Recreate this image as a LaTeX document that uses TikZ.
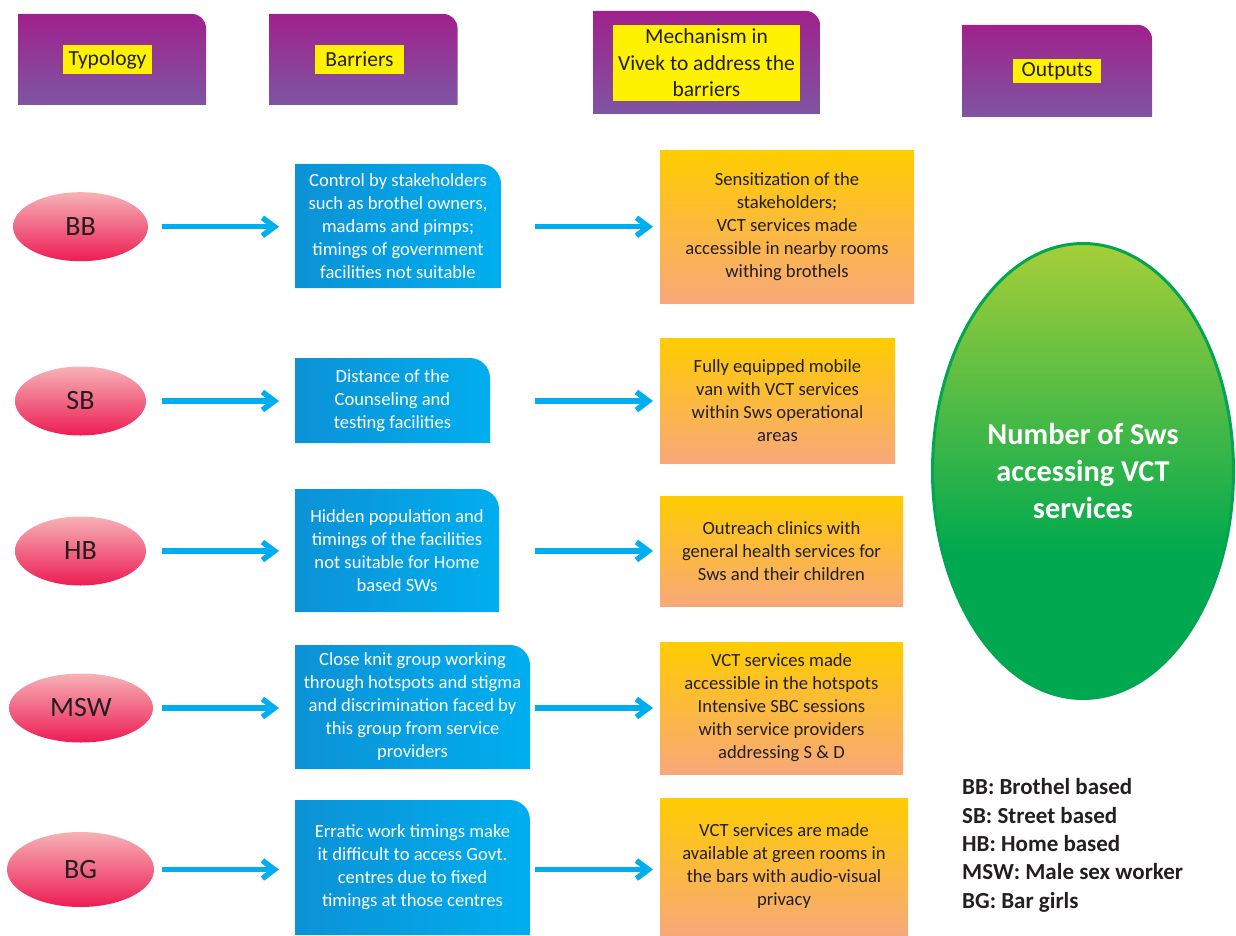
\documentclass[tikz,border=0pt]{standalone}
\usepackage{fontspec}
\setmainfont{Carlito}
\usetikzlibrary{shapes.geometric,arrows.meta,backgrounds,calc}

\definecolor{purpleTop}{RGB}{160,33,140}
\definecolor{purpleBot}{RGB}{126,85,163}
\definecolor{labelYellow}{RGB}{255,242,0}
\definecolor{inkDark}{RGB}{35,31,32}
\definecolor{pinkTop}{RGB}{246,178,182}
\definecolor{pinkBot}{RGB}{237,28,84}
\definecolor{blueL}{RGB}{12,146,214}
\definecolor{blueR}{RGB}{0,174,239}
\definecolor{orangeTop}{RGB}{255,204,0}
\definecolor{orangeBot}{RGB}{247,168,122}
\definecolor{greenTop}{RGB}{166,206,57}
\definecolor{greenBot}{RGB}{0,169,79}
\definecolor{greenEdge}{RGB}{0,166,81}
\definecolor{arrowCyan}{RGB}{0,174,239}

% vertical green shading: flat dark green on the lower part, fading to light green at the top
\pgfdeclareverticalshading{outputshade}{100bp}{color(0bp)=(greenBot); color(25bp)=(greenBot); color(41bp)=(greenBot); color(75bp)=(greenTop); color(100bp)=(greenTop)}

% shaded panel behind node #1 with a single rounded (top right) corner of radius #2
\newcommand\tabpanel[3]{%
  \shade[#3] (#1.south west) -- (#1.north west)
    -- ($(#1.north east)+(-#2,0)$)
    .. controls ($(#1.north east)+(-0.45*#2,0)$) and ($(#1.north east)+(0,0.45*#2)$)
    .. ($(#1.north east)+(0,#2)$)
    -- (#1.south east) -- cycle;}

\newcommand\bodytext{\fontsize{18.6}{23}\selectfont}

\tikzset{
  header/.style={rectangle, inner sep=0pt, outer sep=0pt},
  hdlabel/.style={rectangle, fill=labelYellow, inner sep=0pt, text=inkDark,
    align=center, font=\fontsize{21.5}{26.5}\selectfont},
  typology/.style={ellipse, inner sep=0pt, outer sep=0pt, top color=pinkTop,
    bottom color=pinkBot, text=inkDark, font=\fontsize{28}{34}\selectfont},
  barrier/.style={rectangle, inner sep=0pt, outer sep=0pt, text=white,
    align=center, font=\bodytext},
  mechanism/.style={rectangle, inner sep=0pt, outer sep=0pt, top color=orangeTop,
    bottom color=orangeBot, text=inkDark, align=center, font=\bodytext},
  output/.style={ellipse, inner sep=0pt, draw=greenEdge, line width=3pt, shade,
    shading=outputshade, text=white, align=center,
    font=\fontsize{30.3}{37}\selectfont\bfseries},
  flow/.style={draw=arrowCyan, line width=5.5pt,
    -{Straight Barb[length=12pt,width=18pt]}},
}

\begin{document}
\begin{tikzpicture}[x=1pt,y=-1pt]
\useasboundingbox (0,0) rectangle (1236,936);

% column headers
\node[header, minimum width=188, minimum height=91] (hdTyp) at (112,59.5) {};
\node[header, minimum width=188, minimum height=91] (hdBar) at (363.5,59.5) {};
\node[header, minimum width=227, minimum height=103] (hdMech) at (706.5,62.5) {};
\node[header, minimum width=190, minimum height=92] (hdOut) at (1057,71) {};

\node[hdlabel, minimum width=89, minimum height=29] (lbTyp) at (107.5,59.5) {Typology};
\node[hdlabel, minimum width=89, minimum height=29] (lbBar) at (359.5,59.5) {Barriers};
\node[hdlabel, minimum width=187, minimum height=76] (lbMech) at (706.5,63)
  {Mechanism in\\Vivek to address the\\barriers};
\node[hdlabel, minimum width=88, minimum height=24] (lbOut) at (1057,71) {Outputs};

% typology ellipses
\node[typology, minimum width=135, minimum height=69] (tyBB) at (80.5,226.7) {BB};
\node[typology, minimum width=131, minimum height=69] (tySB) at (80.5,401) {SB};
\node[typology, minimum width=131, minimum height=69] (tyHB) at (80.5,551) {HB};
\node[typology, minimum width=144, minimum height=69] (tyMSW) at (81,708) {MSW};
\node[typology, minimum width=147, minimum height=75] (tyBG) at (80.5,869.5) {BG};

% barriers
\node[barrier, minimum width=206, minimum height=124] (brBB) at (398,226)
  {Control by stakeholders\\such as brothel owners,\\madams and pimps;\\timings of government\\facilities not suitable};
\node[barrier, minimum width=195, minimum height=85] (brSB) at (392.5,400.5)
  {Distance of the\\Counseling and\\testing facilities};
\node[barrier, minimum width=204, minimum height=123] (brHB) at (397,550.5)
  {Hidden population and\\timings of the facilities\\not suitable for Home\\based SWs};
\node[barrier, minimum width=235, minimum height=124] (brMSW) at (412.5,707)
  {Close knit group working\\through hotspots and stigma\\and discrimination faced by\\this group from service\\providers};
\node[barrier, minimum width=235, minimum height=135] (brBG) at (412.5,867.5)
  {Erratic work timings make\\it difficult to access Govt.\\centres due to fixed\\timings at those centres};

% mechanisms
\node[mechanism, minimum width=254, minimum height=152] (mcBB) at (787,227)
  {Sensitization of the\\stakeholders;\\VCT services made\\accessible in nearby rooms\\withing brothels};
\node[mechanism, minimum width=235, minimum height=125] (mcSB) at (777.5,400.5)
  {Fully equipped mobile\\van with VCT services\\within Sws operational\\areas};
\node[mechanism, minimum width=243, minimum height=110] (mcHB) at (781.5,551)
  {Outreach clinics with\\general health services for\\Sws and their children};
\node[mechanism, minimum width=243, minimum height=132] (mcMSW) at (781.5,708)
  {VCT services made\\accessible in the hotspots\\Intensive SBC sessions\\with service providers\\addressing S \& D};
\node[mechanism, minimum width=248, minimum height=137] (mcBG) at (784,866.5)
  {VCT services are made\\available at green rooms in\\the bars with audio-visual\\privacy};

% output
\node[output, minimum width=301, minimum height=455] (outVCT) at (1083,471)
  {Number of Sws\\accessing VCT\\services};

% legend
\node[anchor=north west, inner sep=0pt, align=left, text=inkDark,
  font=\fontsize{23}{28.3}\selectfont\bfseries] (legend) at (962,778.5)
  {BB: Brothel based\\SB: Street based\\HB: Home based\\MSW: Male sex worker\\BG: Bar girls};

% panels behind the headers and barrier boxes
\begin{scope}[on background layer]
  \foreach \n in {hdTyp,hdBar,hdMech,hdOut}
    {\tabpanel{\n}{14}{top color=purpleTop, bottom color=purpleBot}}
  \foreach \n in {brBB,brSB,brHB,brMSW,brBG}
    {\tabpanel{\n}{20}{left color=blueL, right color=blueR}}
\end{scope}

% typology -> barrier arrows
\draw[flow, shorten <=13.5pt, shorten >=16pt] (tyBB.east) -- (tyBB.east -| brBB.west);
\draw[flow, shorten <=15.5pt, shorten >=16pt] (tySB.east) -- (tySB.east -| brSB.west);
\draw[flow, shorten <=15.5pt, shorten >=16pt] (tyHB.east) -- (tyHB.east -| brHB.west);
\draw[flow, shorten <=8.5pt, shorten >=16pt] (tyMSW.east) -- (tyMSW.east -| brMSW.west);
\draw[flow, shorten <=7.5pt, shorten >=16pt] (tyBG.east) -- (tyBG.east -| brBG.west);

% barrier -> mechanism arrows
\draw[flow, shorten <=34pt, shorten >=7pt] (tyBB.east -| brBB.east) -- (tyBB.east -| mcBB.west);
\draw[flow, shorten <=45pt, shorten >=7pt] (tySB.east -| brSB.east) -- (tySB.east -| mcSB.west);
\draw[flow, shorten <=36pt, shorten >=7pt] (tyHB.east -| brHB.east) -- (tyHB.east -| mcHB.west);
\draw[flow, shorten <=5pt, shorten >=7pt] (tyMSW.east -| brMSW.east) -- (tyMSW.east -| mcMSW.west);
\draw[flow, shorten <=5pt, shorten >=7pt] (tyBG.east -| brBG.east) -- (tyBG.east -| mcBG.west);
\end{tikzpicture}
\end{document}
